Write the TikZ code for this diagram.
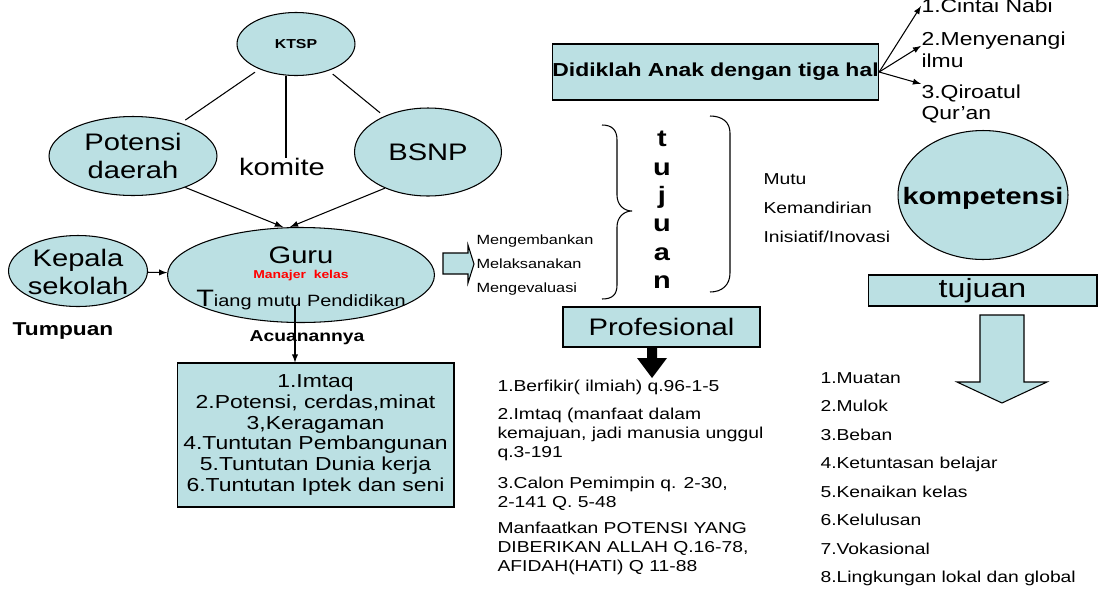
\documentclass[tikz,border=0pt]{standalone}
\usepackage{fontspec}
\setmainfont{Liberation Sans}[FakeStretch=1.22]
\usetikzlibrary{shapes.geometric}
\definecolor{paleblue}{RGB}{187,224,227}
\newcommand\bigtxt{\fontsize{13.6}{16.4}\selectfont}

\begin{document}
\begin{tikzpicture}[x=0.02cm,y=-0.02cm,line width=0.6pt,
    bubble/.style={ellipse,draw,fill=paleblue,inner sep=0pt,align=center,font=\bigtxt},
    panel/.style={rectangle,draw,fill=paleblue,inner sep=0pt,align=center},
    plain/.style={inner sep=0pt,align=left}]
    \useasboundingbox (0,0) rectangle (1099,589);

    % left part: the guru
    \node[bubble,minimum width=2.36cm,minimum height=1.26cm,font=\fontsize{7.4}{9}\selectfont\bfseries] (ktsp) at (296,44) {KTSP};
    \node[bubble,minimum width=3.36cm,minimum height=1.58cm] (potensi) at (133,156) {Potensi\\daerah};
    \node[bubble,minimum width=2.94cm,minimum height=1.76cm] (bsnp) at (428,152) {BSNP};
    \node[plain,font=\bigtxt] (komite) at (282,167) {komite};
    \node[bubble,minimum width=5.34cm,minimum height=1.9cm] (guru) at (301,275) {};
    \node[plain,font=\bigtxt] (guruTxt) at (301,255) {Guru};
    \node[plain,text=red,font=\fontsize{6.5}{8}\selectfont\bfseries] (manajer) at (301,276) {Manajer\ \ kelas};
    \node[plain,font=\fontsize{9.3}{11}\selectfont] (tiang) at (301,300) {{\fontsize{13.5}{14}\selectfont T}iang mutu Pendidikan};
    \node[bubble,minimum width=2.78cm,minimum height=1.42cm] (kepala) at (78,271) {};
    \node[plain,align=center,font=\fontsize{13.6}{16}\selectfont] (kepalaTxt) at (78,272) {Kepala\\sekolah};
    \node[plain,font=\fontsize{10.6}{12}\selectfont\bfseries] (tumpuan) at (63,331) {Tumpuan};
    \node[plain,font=\fontsize{9}{11}\selectfont\bfseries] (acuan) at (307,338) {Acuanannya};
    \node[panel,minimum width=5.54cm,minimum height=2.88cm,font=\fontsize{10.7}{11.9}\selectfont] (imtaq) at (315.5,435)
        {1.Imtaq\\2.Potensi, cerdas,minat\\3,Keragaman\\4.Tuntutan Pembangunan\\5.Tuntutan Dunia kerja\\6.Tuntutan Iptek dan seni};

    \draw[shorten <=3pt,shorten >=3pt] (ktsp) -- (potensi);
    \draw[shorten <=3pt,shorten >=3pt] (ktsp) -- (bsnp);
    \draw ([xshift=0.08cm]komite.north |- ktsp.south) -- ([xshift=0.08cm]komite.north);
    \draw[-latex] (potensi.-31) -- ([xshift=-0.36cm]guru.north);
    \draw[-latex] (bsnp.220) -- ([xshift=-0.22cm]guru.north);
    \draw[-latex] (kepala) -- (guru);
    \coordinate (acuTop) at (295,306);
    \draw[-latex] (acuTop) -- (acuTop |- imtaq.north);

    % middle part: tujuan
    \node[panel,minimum width=6.5cm,minimum height=1.12cm,font=\fontsize{10.7}{12}\selectfont\bfseries] (didik) at (715.5,72) {Didiklah Anak dengan tiga hal};
    \node[plain,anchor=west,font=\fontsize{10.7}{12}\selectfont] (nabi) at (921,6) {1.Cintai Nabi};
    \node[plain,anchor=west,font=\fontsize{10.7}{12}\selectfont] (menyenangi) at (921,41) {2.Menyenangi};
    \node[plain,anchor=west,font=\fontsize{10.7}{12}\selectfont] (ilmu) at (921,61) {ilmu};
    \node[plain,anchor=west,font=\fontsize{10.7}{12}\selectfont] (qiroatul) at (921,93) {3.Qiroatul};
    \node[plain,anchor=west,font=\fontsize{10.7}{12}\selectfont] (quran) at (921,115) {Qur’an};
    \draw[-latex] (didik.east) -- (nabi.west);
    \draw[-latex] (didik.east) -- (menyenangi.base west);
    \draw[-latex] (didik.east) -- (qiroatul.north west);

    \draw (602,125) .. controls (612,125) and (617,130) .. (617,140) -- (617,195)
        .. controls (617,205) and (624,211) .. (632,211) .. controls (624,211) and (617,217) .. (617,227)
        -- (617,285) .. controls (617,295) and (612,299) .. (602,299);
    \draw (710,116) .. controls (722,116) and (730,122) .. (730,133) -- (730,273)
        .. controls (730,285) and (722,292) .. (710,292);
    \node[inner sep=0pt,align=center,font=\fontsize{13.5}{16.2}\selectfont\bfseries] (tujuanV) at (662,210) {t\\u\\j\\u\\a\\n};

    \draw[fill=paleblue] (443,253) -- (468,253) -- (468,245) -- (474,264) -- (468,283) -- (468,274) -- (443,274) -- cycle;
    \node[plain,anchor=west,font=\fontsize{7.6}{13.6}\selectfont] (kembang) at (476,265) {Mengembankan\\Melaksanakan\\Mengevaluasi};
    \node[plain,anchor=west,font=\fontsize{9}{16.4}\selectfont] (mutu) at (763,208) {Mutu\\Kemandirian\\Inisiatif/Inovasi};

    \node[panel,minimum width=3.94cm,minimum height=0.8cm,font=\bigtxt] (profesional) at (661.5,327) {Profesional};
    \fill (647,347) -- (657,347) -- (657,358) -- (667,358) -- (652,378) -- (637,358) -- (647,358) -- cycle;
    \node[plain,anchor=north west,font=\fontsize{9}{10.8}\selectfont] (berfikir) at (497,380)
        {1.Berfikir( ilmiah) q.96-1-5\\[5pt]
         2.Imtaq (manfaat dalam\\kemajuan, jadi manusia unggul\\q.3-191\\[6.5pt]
         3.Calon Pemimpin q. 2-30,\\2-141 Q. 5-48\\[4.5pt]
         Manfaatkan POTENSI YANG\\DIBERIKAN ALLAH Q.16-78,\\AFIDAH(HATI) Q 11-88};

    % right part: kompetensi
    \node[bubble,minimum width=3.4cm,minimum height=2.58cm] (kompetensi) at (983,195) {};
    \node[plain,font=\fontsize{13.5}{16}\selectfont\bfseries] (kompetensiTxt) at (983,198) {kompetensi};
    \node[panel,minimum width=4.58cm,minimum height=0.62cm,font=\fontsize{15}{17}\selectfont] (tujuanBox) at (982.5,290.5) {tujuan};
    \draw[fill=paleblue] (980,315) -- (1024,315) -- (1024,382) -- (1047,382) -- (1002,403) -- (957,382) -- (980,382) -- cycle;
    \node[plain,anchor=north west,font=\fontsize{9}{16.2}\selectfont] (muatan) at (820,372)
        {1.Muatan\\2.Mulok\\3.Beban\\4.Ketuntasan belajar\\5.Kenaikan kelas\\6.Kelulusan\\7.Vokasional\\8.Lingkungan lokal dan global};
\end{tikzpicture}
\end{document}
